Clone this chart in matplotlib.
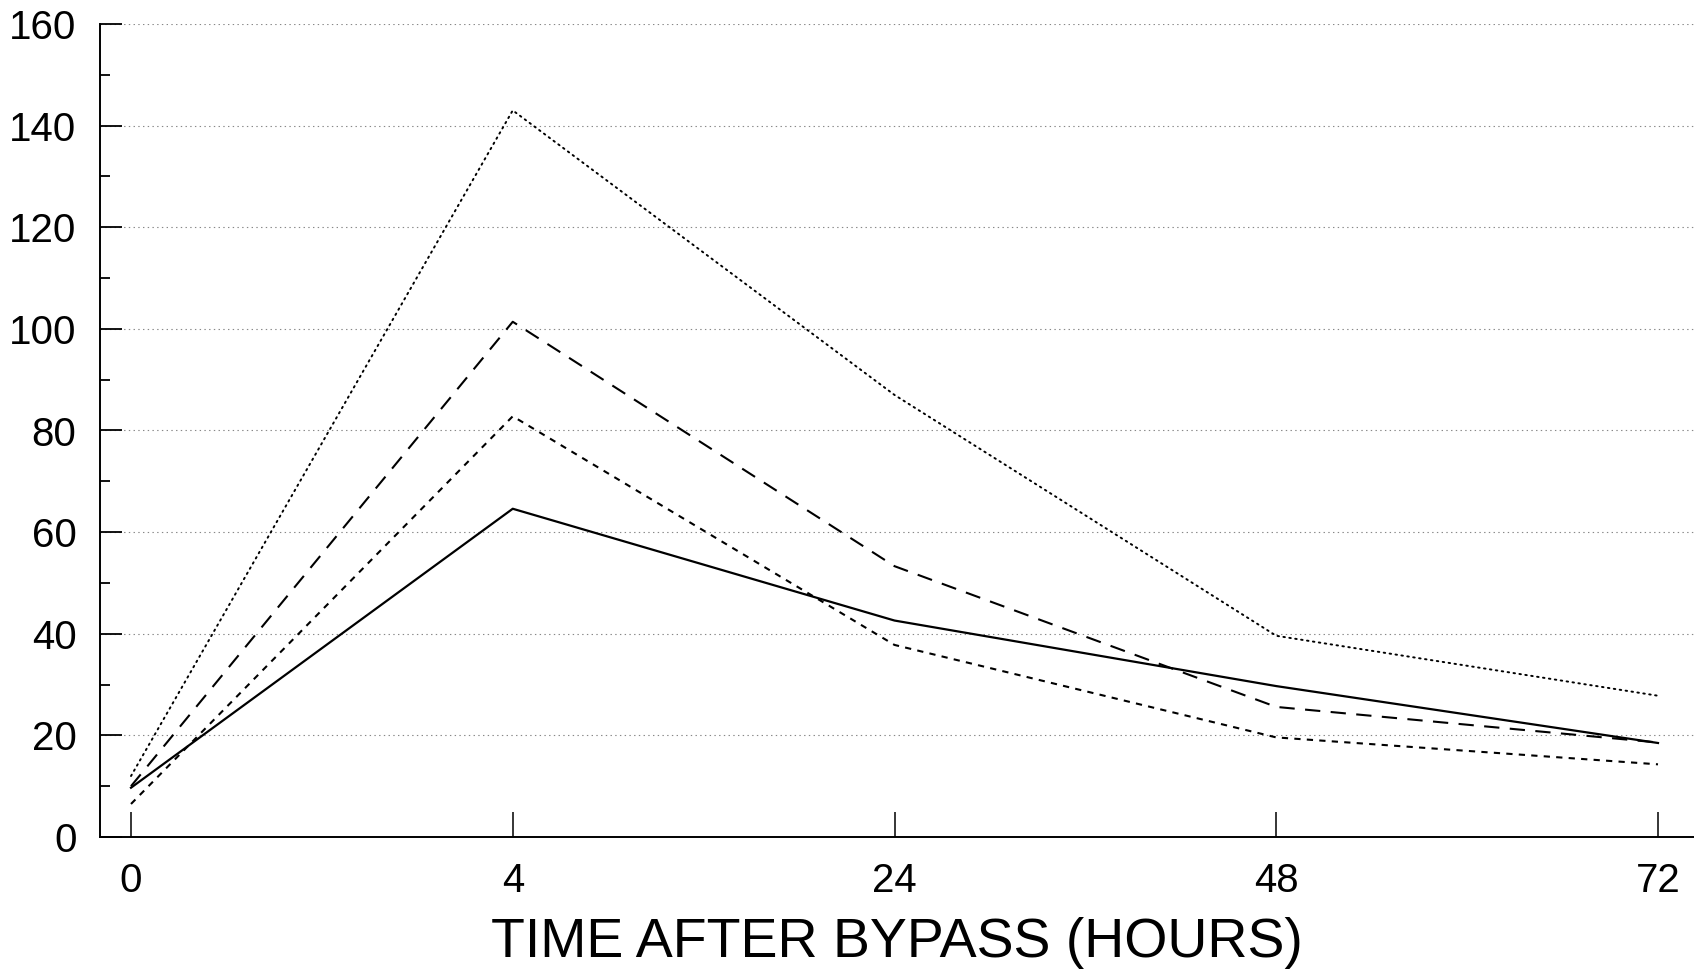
import matplotlib
matplotlib.use("Agg")
import matplotlib.pyplot as plt
from matplotlib.ticker import MultipleLocator

plt.rcParams['font.family'] = ['Liberation Sans', 'DejaVu Sans']
plt.rcParams['lines.scale_dashes'] = False

# time points (hours), drawn at equal spacing
hours = ["0", "4", "24", "48", "72"]

# four series
solid_vals = [9.7, 64.6, 42.6, 29.7, 18.5]
long_dash_vals = [10.0, 101.4, 53.3, 25.6, 18.6]
short_dash_vals = [6.5, 82.8, 37.8, 19.6, 14.3]
dotted_vals = [12.0, 143.0, 87.0, 39.6, 27.8]

y_ticks = [0, 20, 40, 60, 80, 100, 120, 140, 160]

fig = plt.figure(figsize=(16.94, 9.69), dpi=100)
ax = fig.add_axes([100 / 1694, 132 / 969, 1 - 100 / 1694, (837 - 24) / 969])

x = list(range(len(hours)))

# grid first so lines sit on top
ax.set_yticks(y_ticks)
ax.yaxis.set_minor_locator(MultipleLocator(10))
ax.grid(axis='y', which='major', color='#888888', linestyle=(0, (1, 2.4)), linewidth=0.8)
ax.set_axisbelow(True)

ax.plot(x, dotted_vals, color='black', linewidth=1.4, linestyle=(0, (1.1, 3.2)),
        dash_capstyle='round')
ax.plot(x, long_dash_vals, color='black', linewidth=1.5, linestyle=(0, (11, 7.5)))
ax.plot(x, short_dash_vals, color='black', linewidth=1.5, linestyle=(0, (4.5, 4.5)))
ax.plot(x, solid_vals, color='black', linewidth=1.6)

ax.set_xticks(x)
ax.set_xticklabels(hours)
ax.set_xlim((100 - 131) / 381.75, (1694 - 131) / 381.75)
ax.set_ylim(0, 160)

for s in ['top', 'right']:
    ax.spines[s].set_visible(False)
ax.spines['left'].set_linewidth(1.4)
ax.spines['bottom'].set_linewidth(1.4)

ax.tick_params(axis='y', which='major', direction='in', length=16, width=1.3,
               labelsize=29, pad=17)
ax.tick_params(axis='y', which='minor', direction='in', length=7.5, width=1.3)
ax.tick_params(axis='x', which='major', direction='in', length=18, width=1.1,
               labelsize=29, pad=18)

ax.set_xlabel("TIME AFTER BYPASS (HOURS)", fontsize=40, labelpad=12)

fig.savefig("out.png", dpi=100)
